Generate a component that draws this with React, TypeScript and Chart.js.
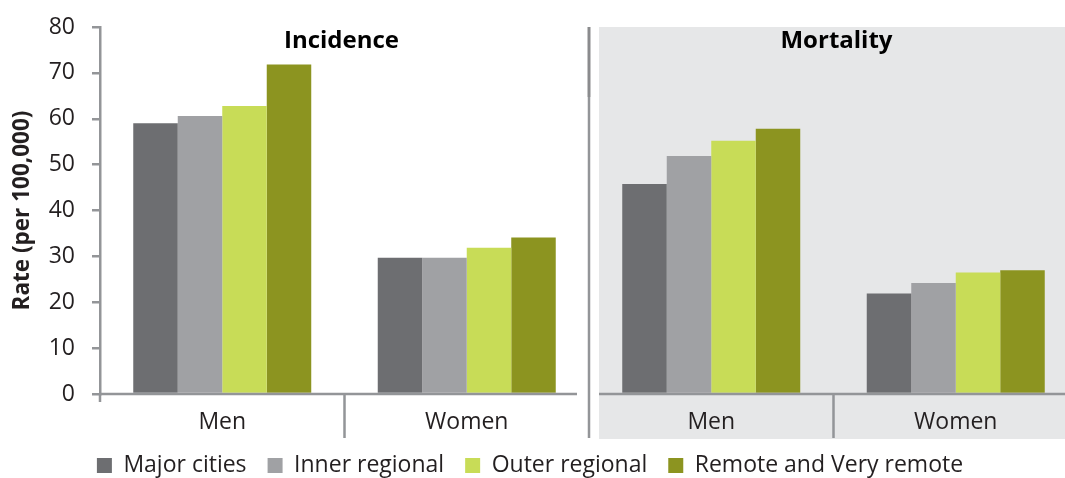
import React, { useEffect, useRef } from "react";
import { Chart, registerables } from "chart.js";

Chart.register(...registerables);

const categories = ["Men", "Women", "Men", "Women"];
const panelTitles = ["Incidence", "Mortality"];
const regions = ["Major cities", "Inner regional", "Outer regional", "Remote and Very remote"];
const colors = ["#6d6e71", "#a0a1a4", "#c8dc57", "#8c9420"];

// [Men, Women] per region
const incidenceMajor = [59.0, 29.7];
const incidenceInner = [60.6, 29.7];
const incidenceOuter = [62.8, 31.9];
const incidenceRemote = [71.8, 34.1];

const mortalityMajor = [45.8, 21.9];
const mortalityInner = [51.9, 24.2];
const mortalityOuter = [55.2, 26.5];
const mortalityRemote = [57.8, 27.0];

const yTicks = [0, 10, 20, 30, 40, 50, 60, 70, 80];
const yTitle = "Rate (per 100,000)";

const FONT = "'Open Sans', 'Noto Sans', sans-serif";
const TEXT = "#231f20";
const AXIS = "#939598";
const PANEL_BG = "#e6e7e8";
const SEP_DEPTH = 44;

const panelPlugin = {
  id: "panels",
  beforeDraw(chart: any) {
    const { ctx, chartArea, scales } = chart;
    const x = scales.x;
    const divider = (x.getPixelForTick(1) + x.getPixelForTick(2)) / 2;
    ctx.save();
    ctx.fillStyle = PANEL_BG;
    ctx.fillRect(divider + 10, chartArea.top, chart.width - divider - 10, chartArea.bottom + SEP_DEPTH + 1 - chartArea.top);
    ctx.restore();
  },
  afterDatasetsDraw(chart: any) {
    const { ctx, chartArea, scales } = chart;
    const x = scales.x;
    const b = (i: number) => (x.getPixelForTick(i) + x.getPixelForTick(i + 1)) / 2;
    const divider = b(1);
    const sepBottom = chartArea.bottom + SEP_DEPTH;
    ctx.save();
    ctx.strokeStyle = AXIS;
    ctx.lineWidth = 2.5;
    ctx.lineCap = "butt";
    ctx.beginPath();
    ctx.moveTo(chartArea.left - 1, chartArea.bottom);
    ctx.lineTo(divider - 12, chartArea.bottom);
    ctx.moveTo(divider + 10, chartArea.bottom);
    ctx.lineTo(chartArea.right, chartArea.bottom);
    [b(0), b(2)].forEach((px) => {
      ctx.moveTo(px, chartArea.bottom);
      ctx.lineTo(px, sepBottom);
    });
    ctx.moveTo(chartArea.left, chartArea.bottom);
    ctx.lineTo(chartArea.left, chartArea.bottom + 8);
    ctx.moveTo(divider, chartArea.top + 70);
    ctx.lineTo(divider, sepBottom);
    ctx.stroke();
    ctx.lineWidth = 3;
    ctx.strokeStyle = "#8a8b8d";
    ctx.beginPath();
    ctx.moveTo(divider, chartArea.top);
    ctx.lineTo(divider, chartArea.top + 70);
    ctx.stroke();

    ctx.fillStyle = "#000000";
    ctx.font = `bold 24px ${FONT}`;
    ctx.textAlign = "center";
    ctx.textBaseline = "middle";
    ctx.fillText(panelTitles[0], (x.getPixelForTick(0) + x.getPixelForTick(1)) / 2 - 3, chartArea.top + 14);
    ctx.fillText(panelTitles[1], (x.getPixelForTick(2) + x.getPixelForTick(3)) / 2 + 3, chartArea.top + 14);
    ctx.restore();
  },
};

export default function App() {
  const ref = useRef<HTMLCanvasElement | null>(null);

  useEffect(() => {
    if (!ref.current) return;
    const series = [
      [...incidenceMajor, ...mortalityMajor],
      [...incidenceInner, ...mortalityInner],
      [...incidenceOuter, ...mortalityOuter],
      [...incidenceRemote, ...mortalityRemote],
    ];
    const chart = new Chart(ref.current, {
      type: "bar",
      data: {
        labels: categories,
        datasets: regions.map((r, i) => ({
          label: r,
          data: series[i],
          backgroundColor: colors[i],
          borderWidth: 0,
          categoryPercentage: 0.728,
          barPercentage: 1,
        })),
      },
      options: {
        animation: false,
        responsive: true,
        maintainAspectRatio: false,
        layout: { padding: { left: -18, right: 2, top: 27, bottom: -9 } },
        plugins: {
          legend: {
            position: "bottom",
            labels: {
              boxWidth: 15,
              boxHeight: 15,
              padding: 21,
              color: TEXT,
              font: { family: FONT, size: 23 },
            },
          },
          tooltip: { enabled: false },
        },
        scales: {
          x: {
            grid: { display: false, drawTicks: false },
            border: { display: false },
            ticks: {
              color: TEXT,
              font: { family: FONT, size: 23 },
              padding: 15,
            },
            afterFit: (s: any) => {
              s.height = 39;
            },
          },
          y: {
            min: 0,
            max: 80,
            afterBuildTicks: (s: any) => {
              s.ticks = yTicks.map((v) => ({ value: v }));
            },
            afterFit: (s: any) => {
              s.width = 118;
              s.paddingTop = 0;
              s.paddingBottom = 0;
            },
            grid: {
              drawOnChartArea: false,
              drawTicks: true,
              tickLength: 8,
              color: AXIS,
              lineWidth: 2.5,
            },
            border: { display: true, color: AXIS, width: 2.5 },
            ticks: {
              color: TEXT,
              font: { family: FONT, size: 23 },
              padding: 17,
            },
            title: {
              display: true,
              text: yTitle,
              color: TEXT,
              font: { family: FONT, size: 22.5, weight: "bold" },
              padding: { top: 27, bottom: 0 },
            },
          },
        },
      },
      plugins: [panelPlugin],
    });
    return () => chart.destroy();
  }, []);

  return (
    <div style={{ position: "fixed", left: 0, top: 0, width: 1065, height: 478, overflow: "hidden", background: "#fff" }}>
      <div style={{ position: "relative", width: 1080, height: 478 }}>
        <canvas ref={ref} />
      </div>
    </div>
  );
}
